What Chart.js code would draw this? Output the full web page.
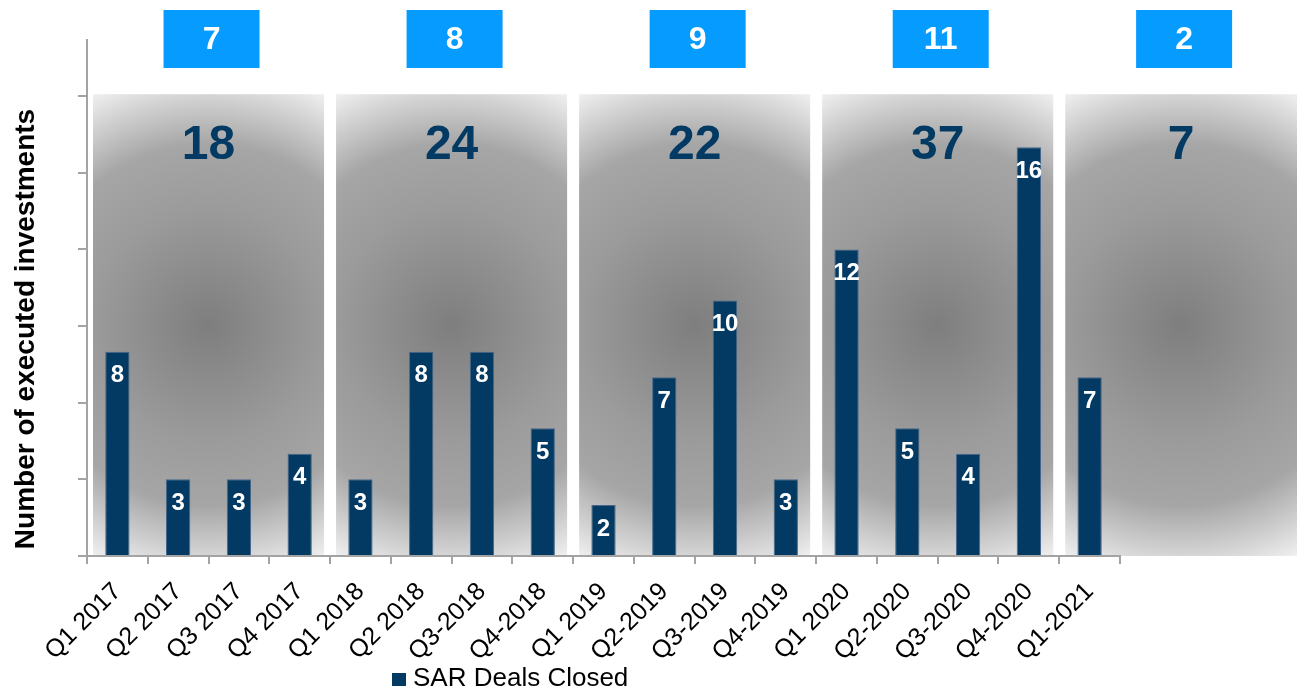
<!DOCTYPE html>
<html><head><meta charset="utf-8">
<script src="https://cdn.jsdelivr.net/npm/chart.js@4/dist/chart.umd.min.js"></script>
<style>html,body{margin:0;padding:0;background:#fff}#wrap{width:1297px;height:692px;position:relative}</style>
</head><body><div id="wrap"><canvas id="c"></canvas></div>
<script>
const categories = ['Q1 2017','Q2 2017','Q3 2017','Q4 2017','Q1 2018','Q2 2018','Q3-2018','Q4-2018','Q1 2019','Q2-2019','Q3-2019','Q4-2019','Q1 2020','Q2-2020','Q3-2020','Q4-2020','Q1-2021'];
const dealsClosed = [8,3,3,4,3,8,8,5,2,7,10,3,12,5,4,16,7];
const seriesLabel = 'SAR Deals Closed';
const yTicks = [0,3,6,9,12,15,18];
const groupSizes = [4,4,4,4,1];
const groupTotals = [18,24,22,37,7];
const groupBadges = [7,8,9,11,2];
const yTitle = 'Number of executed investments';

const FONT = '"Liberation Sans", Arial, Helvetica, sans-serif';
const NAVY = '#023a63';
const AXIS = '#a3a3a3';

function panelRects(chart){
  const x = chart.scales.x, y = chart.scales.y;
  const half = (x.getPixelForValue(1) - x.getPixelForValue(0)) / 2;
  const rects = [];
  let start = 0;
  groupSizes.forEach((n, g) => {
    const bl = x.getPixelForValue(start) - half;
    const br = x.getPixelForValue(start + n - 1) + half;
    const left = bl + 6;
    const right = g === groupSizes.length - 1 ? chart.width : br - 6;
    const top = y.getPixelForValue(yTicks[yTicks.length - 1]) - 2;
    const bottom = y.bottom;
    rects.push({left, right, top, bottom});
    start += n;
  });
  return rects;
}

const panelsPlugin = {
  id: 'panels',
  beforeDraw(chart){
    const ctx = chart.ctx;
    const rects = panelRects(chart);
    ctx.save();
    rects.forEach((r, g) => {
      const w = r.right - r.left, h = r.bottom - r.top;
      const cx = r.left + w / 2, cy = r.top + h / 2;
      const rad = Math.sqrt(w * w + h * h) / 2;
      const grd = ctx.createRadialGradient(cx, cy, 0, cx, cy, rad);
      grd.addColorStop(0, '#7e7e7e');
      grd.addColorStop(0.45, '#9b9b9b');
      grd.addColorStop(0.7, '#a6a6a6');
      grd.addColorStop(0.88, '#d2d2d2');
      grd.addColorStop(1, '#f0f0f0');
      ctx.fillStyle = grd;
      ctx.fillRect(r.left, r.top, w, h);

      // badge
      const bw = 96, bh = 58;
      const bx = cx + 3 - bw / 2;
      ctx.fillStyle = '#069bff';
      ctx.fillRect(bx, 10, bw, bh);
      ctx.fillStyle = '#ffffff';
      ctx.font = 'bold 32px ' + FONT;
      ctx.textAlign = 'center';
      ctx.textBaseline = 'middle';
      ctx.fillText(String(groupBadges[g]), cx + 3, 40);

      // total
      ctx.fillStyle = NAVY;
      ctx.font = 'bold 48px ' + FONT;
      ctx.fillText(String(groupTotals[g]), cx, 146);
    });
    ctx.restore();
  },
  afterDatasetsDraw(chart){
    const ctx = chart.ctx;
    const meta = chart.getDatasetMeta(0);
    ctx.save();
    ctx.fillStyle = '#ffffff';
    ctx.font = 'bold 24px ' + FONT;
    ctx.textAlign = 'center';
    ctx.textBaseline = 'middle';
    meta.data.forEach((bar, i) => {
      ctx.fillText(String(chart.data.datasets[0].data[i]), bar.x, bar.y + 24);
    });
    ctx.restore();
  },
  afterDraw(chart){
    const ctx = chart.ctx;
    ctx.save();
    // y title
    ctx.translate(26, 329);
    ctx.rotate(-Math.PI / 2);
    ctx.fillStyle = '#000';
    ctx.font = 'bold 28px ' + FONT;
    ctx.textAlign = 'center';
    ctx.textBaseline = 'middle';
    ctx.fillText(yTitle, 0, 0);
    ctx.restore();
    // legend
    ctx.save();
    ctx.fillStyle = NAVY;
    ctx.fillRect(392, 673, 14, 13);
    ctx.fillStyle = '#000';
    ctx.font = '26px ' + FONT;
    ctx.textAlign = 'left';
    ctx.textBaseline = 'middle';
    ctx.fillText(chart.data.datasets[0].label, 413, 679);
    ctx.restore();
  }
};

new Chart(document.getElementById('c'), {
  type: 'bar',
  data: {
    labels: categories,
    datasets: [{
      label: seriesLabel,
      data: dealsClosed,
      backgroundColor: NAVY,
      borderColor: '#46678a',
      borderWidth: 1,
      categoryPercentage: 1.0,
      barPercentage: 0.4
    }]
  },
  options: {
    responsive: true,
    maintainAspectRatio: false,
    animation: false,
    layout: { padding: { top: 40, right: 177, left: 0, bottom: 0 } },
    plugins: { legend: { display: false }, tooltip: { enabled: false } },
    scales: {
      x: {
        offset: true,
        grid: { offset: true, drawOnChartArea: false, tickLength: 8, color: AXIS, lineWidth: 2 },
        border: { display: true, color: AXIS, width: 2 },
        ticks: { color: '#000', font: { family: FONT, size: 25 }, minRotation: 45, maxRotation: 45, padding: 13, autoSkip: false },
        afterFit(s){ s.height = 136; }
      },
      y: {
        min: 0, max: 20.2,
        afterBuildTicks(s){ s.ticks = yTicks.map(v => ({ value: v })); },
        grid: { drawOnChartArea: false, tickLength: 9, color: AXIS, lineWidth: 2 },
        border: { display: true, color: AXIS, width: 2 },
        ticks: { display: false },
        afterFit(s){ s.width = 87; }
      }
    }
  },
  plugins: [panelsPlugin]
});
</script></body></html>
